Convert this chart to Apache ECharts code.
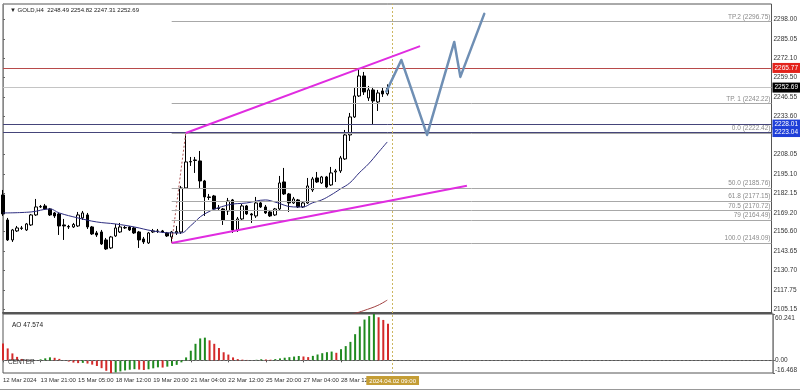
<!DOCTYPE html>
<html><head><meta charset="utf-8">
<script src="https://cdn.jsdelivr.net/npm/echarts@6/dist/echarts.min.js"></script>
<style>html,body{margin:0;padding:0;background:#fff}#c{width:800px;height:390px;box-sizing:border-box;border-bottom:1px solid #999}</style>
</head><body><div id="c"></div><script>
const symbolName = 'GOLD,H4';
// [open, close, low, high] per H4 bar
const candles = [
[2181.10,2168.43,2167.10,2184.43],[2164.43,2151.10,2150.43,2165.77],[2151.10,2157.77,2149.77,2158.43],[2157.10,2159.10,2156.43,2160.43],
[2158.77,2159.10,2157.77,2160.43],[2157.77,2161.77,2157.10,2162.43],[2161.10,2167.77,2160.43,2168.43],[2167.77,2173.10,2167.10,2178.43],
[2173.10,2173.43,2172.43,2174.43],[2173.77,2171.77,2171.10,2175.10],[2171.77,2167.77,2167.10,2172.43],[2169.10,2167.10,2165.77,2169.77],
[2168.43,2160.43,2154.43,2169.10],[2161.10,2160.43,2151.10,2165.10],[2160.10,2159.77,2158.43,2161.10],[2159.77,2161.43,2159.10,2162.43],
[2160.43,2167.77,2159.77,2169.77],[2165.77,2169.10,2164.43,2170.43],[2167.77,2159.77,2158.43,2169.10],[2159.77,2155.10,2154.43,2160.43],
[2155.77,2154.43,2153.10,2157.10],[2156.43,2148.43,2147.77,2157.77],[2151.10,2145.10,2144.43,2152.43],[2145.77,2153.10,2145.10,2153.77],
[2153.77,2159.10,2153.10,2161.77],[2156.43,2159.77,2155.77,2162.43],[2159.10,2159.43,2158.43,2160.43],[2159.77,2157.77,2157.10,2160.43],
[2159.10,2155.77,2155.10,2159.77],[2156.43,2151.10,2145.77,2157.10],[2151.77,2149.77,2148.43,2153.10],[2149.10,2155.77,2148.43,2156.43],
[2156.43,2157.10,2155.77,2158.43],[2156.77,2157.10,2155.77,2158.43],[2157.10,2156.43,2155.77,2157.77],[2155.77,2153.77,2153.10,2156.43],
[2153.10,2156.43,2149.09,2157.10],[2155.77,2156.77,2154.43,2160.43],[2156.43,2185.77,2155.10,2187.10],[2185.77,2203.10,2185.10,2222.42],
[2203.10,2203.43,2200.43,2206.43],[2204.43,2204.10,2195.77,2206.43],[2203.77,2190.43,2185.77,2210.43],[2190.43,2179.77,2167.10,2191.10],
[2179.77,2179.43,2177.77,2181.77],[2180.43,2171.77,2171.10,2181.10],[2172.43,2172.10,2170.43,2174.43],[2171.77,2164.43,2161.10,2172.43],
[2170.43,2177.10,2167.77,2179.10],[2177.77,2157.77,2155.77,2178.43],[2157.77,2165.10,2156.43,2166.43],[2165.10,2173.77,2164.43,2175.10],
[2173.77,2168.43,2167.77,2174.43],[2168.43,2167.77,2162.43,2169.10],[2167.10,2175.77,2165.77,2179.77],[2175.77,2173.10,2172.43,2177.10],
[2173.10,2169.10,2168.43,2174.43],[2169.77,2167.10,2166.43,2171.10],[2167.77,2171.77,2167.10,2172.43],[2171.77,2189.10,2171.10,2193.77],
[2189.77,2181.77,2181.10,2199.10],[2181.77,2175.77,2169.77,2182.43],[2175.77,2178.43,2175.10,2179.77],[2177.77,2173.10,2172.43,2178.43],
[2173.10,2175.77,2172.43,2176.43],[2175.77,2187.10,2175.10,2192.43],[2184.43,2191.77,2183.10,2193.10],[2192.43,2189.77,2189.10,2196.43],
[2189.10,2193.10,2188.43,2193.77],[2193.10,2186.43,2185.77,2193.77],[2187.77,2195.77,2187.10,2199.77],[2196.43,2197.10,2189.77,2198.43],
[2197.10,2205.77,2195.77,2207.10],[2205.10,2221.10,2204.43,2224.43],[2221.10,2233.10,2217.10,2235.77],[2233.10,2247.10,2232.43,2252.43],
[2247.10,2260.43,2246.43,2265.77],[2260.43,2249.77,2247.77,2263.10],[2245.77,2251.10,2243.77,2253.77],[2251.10,2243.77,2228.01,2253.10],
[2243.10,2249.10,2237.10,2251.10],[2250.43,2248.43,2246.43,2252.43],[2248.49,2252.69,2247.31,2254.82]
];
const aoValues = [
22,15.5,9,4.5,1.8,0.6,-0.4,0.4,1.3,2.6,3.9,3.3,1.9,-0.6,-1.6,-2.9,-3.6,-3.3,-4.2,-5.6,
-7.4,-10.2,-13.6,-16.468,-15.7,-14.4,-13.1,-12.2,-11.5,-12.0,-12.6,-11.6,-10.4,-9.1,-9.4,-8.2,-7.3,-5.9,-2.6,3.8,
12.5,21.5,28.5,29.5,26,21.5,16,10.5,7.5,3.8,1.6,0.9,0.5,0.2,0.7,1.4,1.1,0.8,1.6,2.5,
3.4,4.1,4.9,5.6,5.0,4.2,5.8,7.6,9.3,10.6,11.4,9.8,14.5,18.5,24,34,44,53,57.5,60.241,
56,52.5,47.574
];
const maPoints = [[0,2169.10],[6,2169.77],[10,2171.77],[12,2169.10],[16,2165.77],[20,2163.10],[24,2161.77],[28,2159.77],[32,2157.10],[36,2155.77],[38,2155.77],[40,2160.43],[43,2168.43],[48,2174.43],[52,2175.77],[56,2177.77],[58,2176.43],[62,2173.10],[64,2173.10],[66,2175.77],[68,2177.77],[70,2181.10],[72,2185.10],[74,2189.10],[76,2195.77],[78,2201.77],[80,2209.10],[82,2216.43]];
const slowMaPoints = [[74,2101.0],[77,2104.0],[80,2107.5],[82,2111.0]];
const channelUpper = [[39,2222.42],[89,2280.3]];
const channelLower = [[36,2149.09],[99,2187.3]];
const fibAnchor = [[36,2149.09],[39,2222.42]];
const forecastPath = [[81.8,2250.0],[85,2271.1],[90.5,2221.1],[96.3,2283.1],[97.6,2259.8],[102.7,2301.8]];
const fibLevels = [2296.75,2242.22,2222.42,2185.76,2177.15,2170.72,2164.49,2149.09];
const fibLabels = ['TP.2 (2296.75)','TP. 1 (2242.22)','0.0 (2222.42)','50.0 (2185.76)','61.8 (2177.15)','70.5 (2170.72)','79 (2164.49)','100.0 (2149.09)'];
const fibStartBar = 36;
const redLevel = 2265.77, bidLevel = 2252.69, blueLevels = [2228.01, 2223.04];
const priceTicks = [2298.00,2285.05,2272.10,2259.50,2246.55,2233.60,2208.05,2195.10,2182.15,2169.20,2156.60,2143.65,2130.70,2117.75,2105.15];
const aoTicks = [60.241, 0, -16.468];
const aoTickLabels = ['60.241','0.00','-16.468'];
const timeTickBars = [0,8,16,24,32,40,48,56,64,72];
const timeTickLabels = ['12 Mar 2024','13 Mar 21:00','15 Mar 05:00','18 Mar 12:00','19 Mar 20:00','21 Mar 04:00','22 Mar 12:00','25 Mar 20:00','27 Mar 04:00','28 Mar 12:00'];
const vlineBar = 83, vlineLabel = '2024.04.02 09:00';
const totalBars = 165;
const priceMin = 2102.4, priceMax = 2308.4;

const FONT = '"Liberation Sans",Arial,sans-serif';
const cats = Array.from({length: totalBars}, (_, i) => String(i));
const last = candles[candles.length - 1];
const fmt2 = v => v.toFixed(2);
const aoData = aoValues.map((v, i) => ({
  value: v,
  itemStyle: {color: (i > 0 && v > aoValues[i - 1]) ? '#1f8a1f' : '#d42a2a'}
}));
const tag = (bg) => ({show: true, position: 'end', distance: 1, formatter: p => fmt2(p.value),
  backgroundColor: bg, color: '#fff', fontSize: 6.5, fontFamily: FONT, padding: [2, 2, 1, 2]});
const small = {fontSize: 6.5, color: '#333', fontFamily: FONT};

const chart = echarts.init(document.getElementById('c'), null, {renderer: 'canvas'});
chart.setOption({
  animation: false,
  backgroundColor: '#fff',
  title: [
    {text: '\u25BC ' + symbolName + '  ' + fmt2(last[0]) + ' ' + fmt2(last[3]) + ' ' + fmt2(last[2]) + ' ' + fmt2(last[1]),
     left: 5, top: 2, textStyle: {fontSize: 6, fontWeight: 'normal', color: '#222', fontFamily: FONT}},
    {text: 'AO ' + aoValues[aoValues.length - 1].toFixed(3), left: 7, top: 317,
     textStyle: {fontSize: 6.5, fontWeight: 'normal', color: '#222', fontFamily: FONT}},
    {text: 'CENTER', left: 3, top: 354, textStyle: {fontSize: 6.5, fontWeight: 'normal', color: '#333', fontFamily: FONT}}
  ],
  grid: [
    {left: 3, right: 25, top: 4, height: 309, show: true, borderColor: '#555', borderWidth: 1},
    {left: 3, right: 25, top: 314, height: 59, show: true, borderColor: '#555', borderWidth: 1}
  ],
  xAxis: [
    {type: 'category', gridIndex: 0, data: cats, boundaryGap: false,
     axisLine: {show: true, lineStyle: {color: '#555', width: 2}}, axisTick: {show: false}, axisLabel: {show: false}, splitLine: {show: false}},
    {type: 'category', gridIndex: 1, data: cats, boundaryGap: false,
     axisLine: {show: true, lineStyle: {color: '#555'}},
     axisTick: {show: true, interval: i => timeTickBars.includes(i), length: 2, lineStyle: {color: '#555'}},
     axisLabel: {show: true, showMinLabel: true, hideOverlap: false, interval: i => timeTickBars.includes(i), align: 'left', margin: 4,
       formatter: (v, i) => { const j = timeTickBars.indexOf(Number(v)); return j >= 0 ? timeTickLabels[j] : ''; },
       fontSize: 6, color: '#333', fontFamily: FONT},
     splitLine: {show: false}},
    {type: 'value', gridIndex: 0, min: 0, max: totalBars - 1, show: false}
  ],
  yAxis: [
    {type: 'value', gridIndex: 0, position: 'right', min: priceMin, max: priceMax, scale: true,
     axisLine: {show: true, lineStyle: {color: '#888'}},
     axisTick: {show: true, customValues: priceTicks, length: 2, lineStyle: {color: '#666'}},
     axisLabel: {show: true, customValues: priceTicks, formatter: v => fmt2(v), margin: 2, ...small},
     splitLine: {show: false}},
    {type: 'value', gridIndex: 1, position: 'right', min: -16.468, max: 60.241,
     axisLine: {show: true, lineStyle: {color: '#888'}},
     axisTick: {show: true, customValues: aoTicks, length: 2, lineStyle: {color: '#666'}},
     axisLabel: {show: true, customValues: aoTicks, margin: 2, ...small,
       formatter: v => { const j = aoTicks.indexOf(v); const t = j >= 0 ? aoTickLabels[j] : String(v);
                         return j === 0 ? '{t|' + t + '}' : j === 2 ? '{b|' + t + '}' : '{m|' + t + '}'; },
       rich: {t: {...small, padding: [9, 0, 0, 0]}, b: {...small, padding: [0, 0, 5, 0]}, m: {...small}}},
     splitLine: {show: false}}
  ],
  series: [
    {type: 'candlestick', xAxisIndex: 0, yAxisIndex: 0, data: candles, barWidth: 3, clip: true, z: 3,
     itemStyle: {color: '#fff', color0: '#000', borderColor: '#000', borderColor0: '#000', borderColorDoji: '#000', borderWidth: 1},
     markLine: {silent: true, symbol: ['none', 'none'], animation: false,
       data: [
         ...fibLevels.map((v, i) => [
           {coord: [fibStartBar, v], name: fibLabels[i]},
           {coord: [totalBars - 1, v]}
         ]),
         {yAxis: bidLevel, lineStyle: {color: '#c4c4c4', type: 'solid', width: 1}, label: tag('#000')},
         {yAxis: redLevel, lineStyle: {color: '#b84a4a', type: 'solid', width: 1}, label: tag('#e3221b')},
         ...blueLevels.map(v => ({yAxis: v, lineStyle: {color: '#45457a', type: 'solid', width: 1}, label: tag('#1f3fd8')})),
         {xAxis: vlineBar, lineStyle: {color: '#cdb760', type: [2, 2], width: 1}, label: {show: false}}
       ],
       lineStyle: {color: '#a8a8a8', type: 'solid', width: 1},
       label: {show: true, position: 'insideEndTop', formatter: '{b}', color: '#8a8a8a', fontSize: 6.5, fontFamily: FONT, distance: 1}
     }},
    {type: 'line', xAxisIndex: 2, yAxisIndex: 0, data: maPoints, smooth: 0.4, symbol: 'none', z: 4,
     lineStyle: {color: '#2d2d80', width: 1}},
    {type: 'line', xAxisIndex: 2, yAxisIndex: 0, data: slowMaPoints, smooth: 0.4, symbol: 'none', z: 4,
     lineStyle: {color: '#a04040', width: 1}},
    {type: 'line', xAxisIndex: 2, yAxisIndex: 0, data: fibAnchor, symbol: 'none', z: 4,
     lineStyle: {color: '#b05a5a', width: 1, type: [2, 2]}},
    {type: 'line', xAxisIndex: 2, yAxisIndex: 0, data: channelUpper, symbol: 'none', z: 5,
     lineStyle: {color: '#e02ce0', width: 2}},
    {type: 'line', xAxisIndex: 2, yAxisIndex: 0, data: channelLower, symbol: 'none', z: 5,
     lineStyle: {color: '#e02ce0', width: 2}},
    {type: 'line', xAxisIndex: 2, yAxisIndex: 0, data: forecastPath, symbol: 'none', z: 6,
     lineStyle: {color: '#6f8fb4', width: 2.5, cap: 'round', join: 'round'}},
    {type: 'bar', xAxisIndex: 1, yAxisIndex: 1, data: aoData, barWidth: 2, z: 3,
     markLine: {silent: true, symbol: ['none', 'none'], animation: false,
       data: [
         {yAxis: 0, lineStyle: {color: '#777', type: [2, 2], width: 1}, label: {show: false}},
         {xAxis: vlineBar, lineStyle: {color: '#cdb760', type: [2, 2], width: 1},
          label: {show: true, position: 'start', formatter: vlineLabel, distance: 3, backgroundColor: '#c49d35', color: '#fff',
                  fontSize: 6, fontFamily: FONT, padding: [2, 3, 1, 3]}}
       ]}}
  ]
});
</script></body></html>
